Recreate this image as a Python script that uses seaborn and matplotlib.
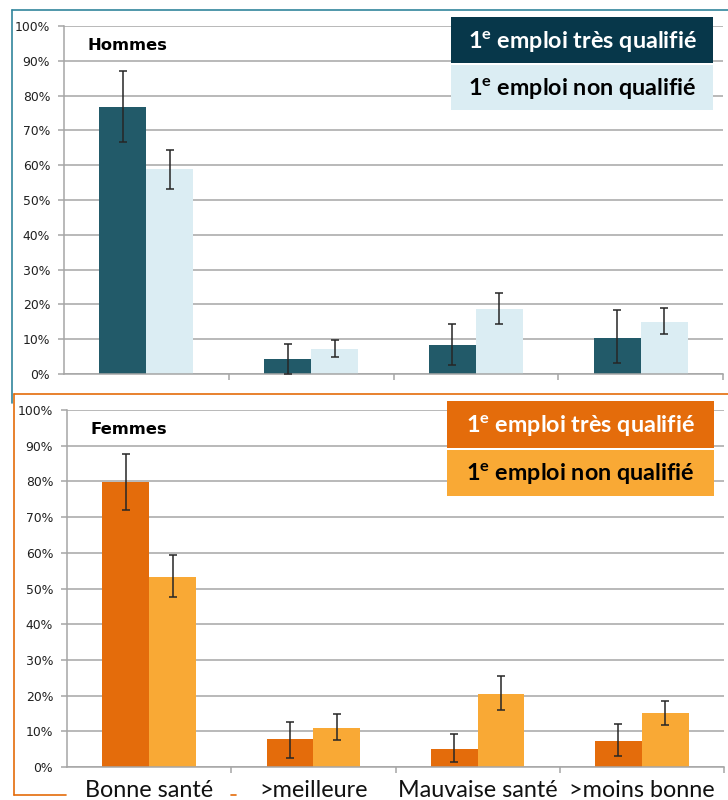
import matplotlib
matplotlib.use("Agg")
import matplotlib.pyplot as plt
from matplotlib.lines import Line2D
from matplotlib.patches import Rectangle
from matplotlib.ticker import FuncFormatter, FixedLocator
import numpy as np
import pandas as pd
import seaborn as sns

# --- data (percent) ---------------------------------------------------------
categories = ["Bonne santé", ">meilleure", "Mauvaise santé", ">moins bonne"]
series = ["1e emploi très qualifié", "1e emploi non qualifié"]
series_labels = [r"1$^{\mathregular{e}}$ emploi très qualifié",
                 r"1$^{\mathregular{e}}$ emploi non qualifié"]

hommes_tres = [76.6, 4.4, 8.3, 10.4]
hommes_tres_lo = [66.8, 0.0, 2.5, 3.1]
hommes_tres_hi = [87.2, 8.6, 14.4, 18.4]
hommes_non = [58.8, 7.2, 18.7, 15.0]
hommes_non_lo = [53.2, 4.8, 14.4, 11.5]
hommes_non_hi = [64.5, 9.7, 23.3, 19.1]

femmes_tres = [79.7, 7.8, 5.1, 7.2]
femmes_tres_lo = [71.9, 2.5, 1.4, 3.1]
femmes_tres_hi = [87.7, 12.5, 9.3, 12.0]
femmes_non = [53.1, 10.9, 20.4, 15.2]
femmes_non_lo = [47.5, 7.7, 16.1, 11.7]
femmes_non_hi = [59.3, 14.8, 25.5, 18.6]

y_ticks = list(range(0, 101, 10))

# --- style -------------------------------------------------------------------
sns.set_style("white")
plt.rcParams["font.family"] = ["DejaVu Sans"]
plt.rcParams["mathtext.default"] = "regular"

W, H = 728, 800
fig = plt.figure(figsize=(W / 100, H / 100), dpi=100)


def px_rect(x0, y0, x1, y1):
    return [x0 / W, 1 - y1 / H, (x1 - x0) / W, (y1 - y0) / H]


def fx(x):
    return x / W


def fy(y):
    return 1 - y / H


GRID = "#a6a6a6"
TXT = "#1f1f1f"


def panel(ax, tres, tres_lo, tres_hi, non, non_lo, non_hi, colors, title):
    df = pd.DataFrame({
        "cat": categories * 2,
        "serie": [series[0]] * 4 + [series[1]] * 4,
        "val": tres + non,
    })
    sns.barplot(data=df, x="cat", y="val", hue="serie", order=categories,
                hue_order=series, palette=colors, width=0.57, gap=0,
                legend=False, ax=ax, saturation=1, linewidth=0, zorder=2)
    lows = tres_lo + non_lo
    highs = tres_hi + non_hi
    vals = tres + non
    for p, v, lo, hi in zip(ax.patches, vals, lows, highs):
        xc = p.get_x() + p.get_width() / 2
        ax.errorbar(xc, v, yerr=[[v - lo], [hi - v]], fmt="none",
                    ecolor="#262626", elinewidth=1.1, capsize=3,
                    capthick=1.1, zorder=4)
    ax.set_xlim(-0.5, 3.5)
    ax.set_ylim(0, 100)
    ax.yaxis.set_major_locator(FixedLocator(y_ticks))
    ax.yaxis.set_major_formatter(FuncFormatter(lambda v, _: f"{v:.0f}%"))
    ax.grid(axis="y", color=GRID, linewidth=1.1, zorder=0)
    ax.set_axisbelow(True)
    for s in ["top", "right"]:
        ax.spines[s].set_visible(False)
    for s in ["left", "bottom"]:
        ax.spines[s].set_color(GRID)
        ax.spines[s].set_linewidth(1.1)
    ax.set_xlabel("")
    ax.set_ylabel("")
    ax.set_xticks([0.5, 1.5, 2.5, 3.5])
    ax.set_xticklabels([])
    ax.tick_params(axis="x", length=4, width=1.1, color=GRID, direction="out", bottom=True)
    ax.tick_params(axis="y", length=4.5, width=1.1, color=GRID, direction="out",
                   left=True, labelsize=8.9, labelcolor=TXT, pad=5.5)
    ax.text(0.036, 0.945, title, transform=ax.transAxes,
            fontsize=11.8, fontweight="bold", color="black", va="center", ha="left")


top_colors = ["#225a69", "#dbedf3"]
bot_colors = ["#e46c0b", "#f9a935"]

ax1 = fig.add_axes(px_rect(64, 26, 723, 374))
panel(ax1, hommes_tres, hommes_tres_lo, hommes_tres_hi,
      hommes_non, hommes_non_lo, hommes_non_hi, top_colors, "Hommes")

ax2 = fig.add_axes(px_rect(67, 410, 724, 767))
panel(ax2, femmes_tres, femmes_tres_lo, femmes_tres_hi,
      femmes_non, femmes_non_lo, femmes_non_hi, bot_colors, "Femmes")

# panel frames
TEAL = "#31859c"
ORANGE = "#e46c0a"
fig.add_artist(Line2D([fx(12), fx(728)], [fy(10), fy(10)], color=TEAL, lw=1.2))
fig.add_artist(Line2D([fx(12), fx(12)], [fy(10), fy(403)], color=TEAL, lw=1.2))
fig.add_artist(Line2D([fx(13.5), fx(728)], [fy(393.5), fy(393.5)], color=ORANGE, lw=1.2))
fig.add_artist(Line2D([fx(13.5), fx(13.5)], [fy(393.5), fy(795)], color=ORANGE, lw=1.2))
fig.add_artist(Line2D([fx(13.5), fx(66)], [fy(795), fy(795)], color=ORANGE, lw=1.2))
fig.add_artist(Line2D([fx(231), fx(236)], [fy(795), fy(795)], color=ORANGE, lw=1.2))

# category labels under the lower panel
for i, c in enumerate(categories):
    xd = ax2.transData.transform((i, 0))[0]
    fig.text(xd / W, fy(797), c, ha="center", va="baseline",
             fontsize=16.8, family=["Lato", "DejaVu Sans"],
             color="#111111")

# legend boxes
legends = [
    ((451, 17, 713, 63), "#07374a", "white", series_labels[0]),
    ((451, 65, 713, 110), "#dbedf3", "black", series_labels[1]),
    ((447, 401, 714, 448), "#e46c0b", "white", series_labels[0]),
    ((447, 450, 714, 496), "#f9a935", "black", series_labels[1]),
]
for (x0, y0, x1, y1), bg, fg, lab in legends:
    fig.add_artist(Rectangle((fx(x0), fy(y1)), (x1 - x0) / W, (y1 - y0) / H,
                             transform=fig.transFigure, facecolor=bg,
                             edgecolor="none", zorder=5))
    fig.text(fx((x0 + x1) / 2), fy((y0 + y1) / 2 + 1), lab, ha="center", va="center",
             fontsize=16.8, fontweight="bold", family=["Lato", "DejaVu Sans"],
             color=fg, zorder=6)

fig.savefig("out.png", dpi=100)
